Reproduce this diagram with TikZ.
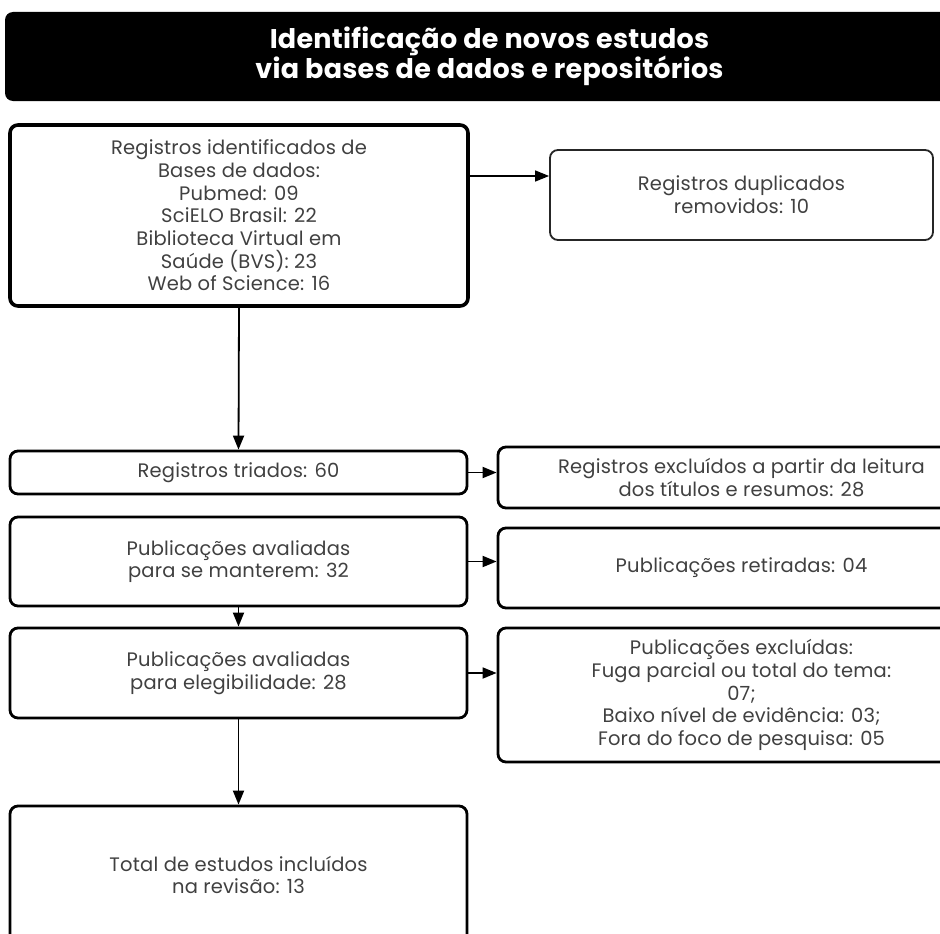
\documentclass[tikz,border=0pt]{standalone}
\usepackage{fontspec}
\setmainfont{Poppins}
\newfontfamily\bodyf{Poppins}[LetterSpace=1]
\newfontfamily\headf{Poppins}[LetterSpace=1]
\usetikzlibrary{arrows.meta}
\definecolor{txt}{HTML}{404040}
\begin{document}
\begin{tikzpicture}[x=1pt,y=-1pt,
  box/.style={draw=black, line width=2.8pt, rounded corners=8pt, align=center, text=txt,
    font=\bodyf\fontsize{19.5}{22.7}\selectfont, inner sep=0pt},
  thinbox/.style={box, line width=1.8pt, draw=black!85},
  head/.style={fill=black, rounded corners=8pt, align=center, text=white,
    font=\headf\bfseries\fontsize{27}{30}\selectfont, inner sep=0pt},
  arr/.style={line width=1.8pt, -{Triangle[length=14pt,width=11pt]}}]
\useasboundingbox (0,0) rectangle (940,934);
\clip (0,0) rectangle (940,934);
\fill[white] (0,0) rectangle (940,934);
\node[head, minimum width=969pt, minimum height=89pt] (hd) at (489.5,56.5)
  {Identificação de novos estudos\\via bases de dados e repositórios};
\node[box, line width=3.6pt, minimum width=458pt, minimum height=181pt] (b1) at (239,215.5)
  {Registros identificados de\\Bases de dados:\\Pubmed: 09\\SciELO Brasil: 22\\Biblioteca Virtual em\\Saúde (BVS): 23\\Web of Science: 16};
\node[thinbox, minimum width=383pt, minimum height=90pt] (dup) at (741.5,195)
  {Registros duplicados\\removidos: 10};
\node[box, minimum width=457pt, minimum height=43pt] (tri) at (238.5,472.5)
  {Registros triados: 60};
\node[box, minimum width=487pt, minimum height=61pt] (ex1) at (741.5,477.5)
  {Registros excluídos a partir da leitura\\dos títulos e resumos: 28};
\node[box, minimum width=457pt, minimum height=89pt] (av) at (238.5,561.5)
  {Publicações avaliadas\\para se manterem: 32};
\node[box, minimum width=487pt, minimum height=80pt] (ret) at (741.5,568)
  {Publicações retiradas: 04};
\node[box, minimum width=457pt, minimum height=90pt] (el) at (238.5,673)
  {Publicações avaliadas\\para elegibilidade: 28};
\node[box, minimum width=487pt, minimum height=134pt] (ex2) at (741.5,695)
  {Publicações excluídas:\\Fuga parcial ou total do tema:\\07;\\Baixo nível de evidência: 03;\\Fora do foco de pesquisa: 05};
\node[box, minimum width=457pt, minimum height=144pt] (tot) at (238.5,878)
  {\raisebox{10pt}{\begin{tabular}{@{}c@{}}Total de estudos incluídos\\na revisão: 13\end{tabular}}};
\draw[arr, line width=1.4pt] ([yshift=39.5pt]b1.east) -- ([yshift=39.5pt]b1.east -| dup.west);
\draw[arr] (b1.south) -- (tri.north);
\draw[arr] (tri.east) -- (tri.east -| ex1.west);
\draw[arr] (av.east) -- (av.east -| ret.west);
\draw[arr] (av.south) -- (el.north);
\draw[arr] (el.east) -- (el.east -| ex2.west);
\draw[arr] (el.south) -- (tot.north);
\end{tikzpicture}
\end{document}
